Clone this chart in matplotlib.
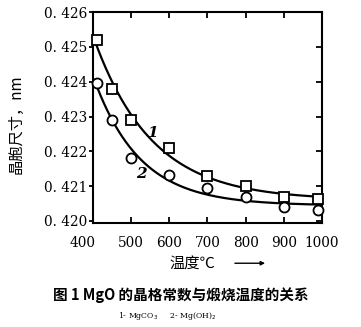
import numpy as np
import matplotlib
matplotlib.use("Agg")
import matplotlib.pyplot as plt
from matplotlib.ticker import FuncFormatter
from matplotlib.transforms import ScaledTranslation

plt.rcParams['font.family'] = ['Noto Sans CJK SC', 'DejaVu Sans']

# Calcination temperature (°C) and lattice constant (nm)
temp_mgco3 = [410, 450, 500, 600, 700, 800, 900, 990]
lat_mgco3 = [0.42519, 0.42380, 0.42290, 0.42210, 0.42130, 0.42100, 0.42070, 0.42063]
temp_mgoh2 = [410, 450, 500, 600, 700, 800, 900, 990]
lat_mgoh2 = [0.42395, 0.42290, 0.42180, 0.42133, 0.42094, 0.42068, 0.42040, 0.42031]

x_ticks = [400, 500, 600, 700, 800, 900, 1000]
y_ticks = [0.420, 0.421, 0.422, 0.423, 0.424, 0.425, 0.426]
curve_labels = ["1", "2"]


def decay_fit(x, y):
    """Least-squares fit of y = a + b*exp(-(x-400)/c), grid over c."""
    x = np.asarray(x, float)
    y = np.asarray(y, float)
    best = None
    for c in np.linspace(30, 400, 741):
        A = np.column_stack([np.ones_like(x), np.exp(-(x - 400) / c)])
        coef, *_ = np.linalg.lstsq(A, y, rcond=None)
        err = np.sum((A @ coef - y) ** 2)
        if best is None or err < best[0]:
            best = (err, coef, c)
    _, (a, b), c = best
    return lambda t: a + b * np.exp(-(t - 400) / c)


fig = plt.figure(figsize=(3.61, 3.27), dpi=100)
ax = fig.add_axes([0.2576, 0.318, 0.634, 0.645])

serif = 'DejaVu Serif'
xs = np.linspace(404, 1000, 300)
for tx, ly, mk in [(temp_mgco3, lat_mgco3, 's'), (temp_mgoh2, lat_mgoh2, 'o')]:
    f = decay_fit(tx, ly)
    ax.plot(xs, f(xs), color='black', lw=1.6, zorder=2, clip_on=False)
    ax.plot(tx, ly, linestyle='none', marker=mk, markersize=7.2,
            markerfacecolor='white', markeredgecolor='black',
            markeredgewidth=1.3, zorder=3, clip_on=False)

ax.text(555, 0.42252, curve_labels[0], fontsize=11, fontstyle='italic',
        fontweight='bold', family=serif, ha='center', va='center')
ax.text(527, 0.42135, curve_labels[1], fontsize=11, fontstyle='italic',
        fontweight='bold', family=serif, ha='center', va='center')

ax.set_xlim(400, 1000)
ax.set_ylim(0.41994, 0.426)
ax.set_xticks(x_ticks)
ax.set_yticks(y_ticks)
ax.yaxis.set_major_formatter(FuncFormatter(lambda v, p: f"{v:.3f}".replace('.', '. ')))

for s in ax.spines.values():
    s.set_linewidth(1.5)

ax.tick_params(axis='y', left=True, right=True, direction='out', length=3,
               width=1.3, labelsize=9.8, pad=1)
ax.tick_params(axis='x', bottom=True, top=True, direction='in', length=4,
               width=1.3, labelsize=9.8, pad=9)
for lab in ax.get_xticklabels() + ax.get_yticklabels():
    lab.set_family(serif)
# right-side ticks point inward
for t in ax.yaxis.get_major_ticks():
    t.tick2line.set_marker(matplotlib.lines.TICKLEFT)
    t.tick2line.set_markersize(4)
# the first temperature label sits left of the axis corner
first = ax.get_xticklabels()[0]
first.set_transform(first.get_transform() +
                    ScaledTranslation(-10 / 100, 0, fig.dpi_scale_trans))

ax.set_ylabel("晶胞尺寸，nm", fontsize=11, labelpad=6)
ax.yaxis.set_label_coords(-0.30, 0.47)

fig.text(0.597, 0.195, "温度℃", fontsize=11, ha='right', va='center')
fig.add_artist(matplotlib.patches.FancyArrowPatch(
    (0.643, 0.195), (0.742, 0.195), transform=fig.transFigure,
    arrowstyle='-|>', mutation_scale=6, lw=1.0, color='black'))

fig.text(0.5, 0.098, "图 1 MgO 的晶格常数与煅烧温度的关系", fontsize=10.5,
         fontweight='bold', ha='center', va='center',
         family=['Noto Sans CJK SC', 'DejaVu Serif'])
fig.text(0.462, 0.033, "1- MgCO$_3$     2- Mg(OH)$_2$", fontsize=5.6,
         ha='center', va='center', family=serif)

fig.savefig("out.png", dpi=100, facecolor='white')
